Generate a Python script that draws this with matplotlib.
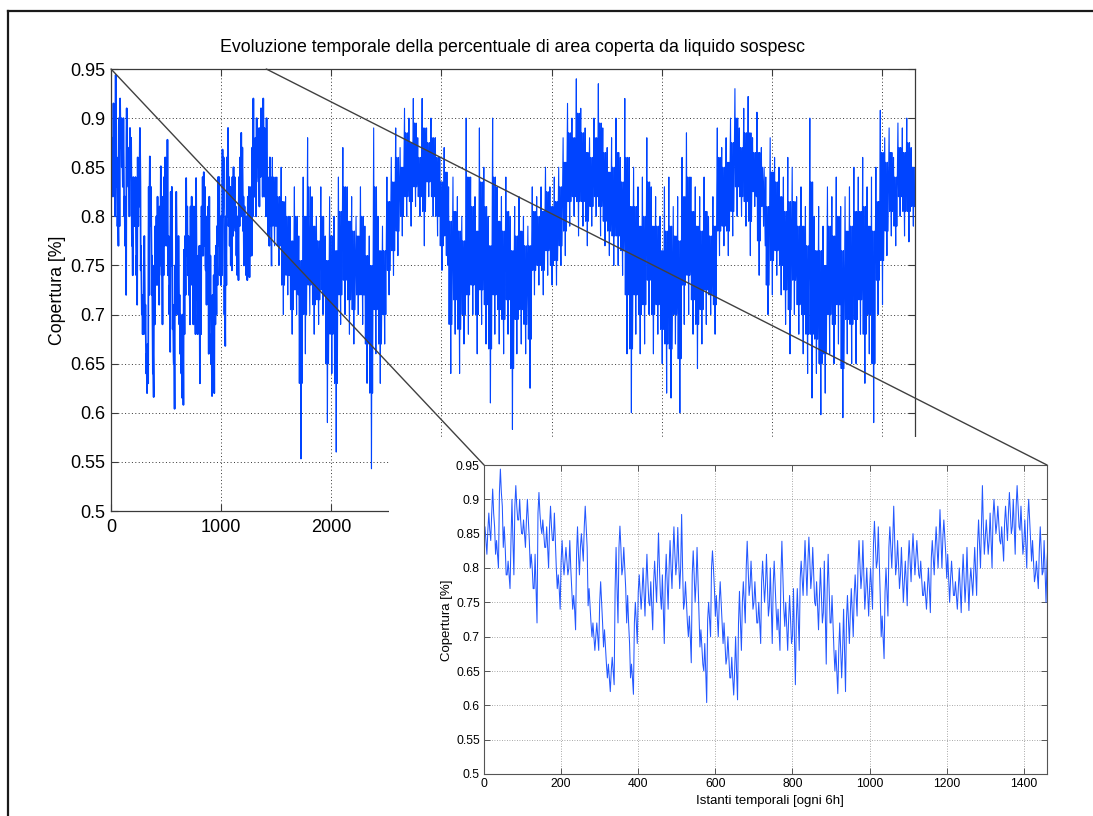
import numpy as np
import matplotlib
matplotlib.use("Agg")
import matplotlib.pyplot as plt
from matplotlib.patches import Rectangle, ConnectionPatch
from matplotlib.lines import Line2D

plt.rcParams["font.family"] = ["Liberation Sans", "DejaVu Sans"]

# ---- data -------------------------------------------------------------
# first year: per block of 10 steps, the upper / lower excursion and the core level
year1_hi = [0.86, 0.88, 0.915, 0.84, 0.944, 0.86, 0.81, 0.90, 0.92, 0.90,
            0.87, 0.90, 0.82, 0.82, 0.91, 0.87, 0.86, 0.89, 0.88, 0.79,
            0.84, 0.83, 0.84, 0.76, 0.86, 0.85, 0.89, 0.77, 0.72, 0.72,
            0.78, 0.71, 0.66, 0.67, 0.83, 0.861, 0.83, 0.76, 0.66, 0.75,
            0.79, 0.80, 0.82, 0.78, 0.81, 0.851, 0.79, 0.82, 0.84, 0.86,
            0.859, 0.878, 0.78, 0.73, 0.825, 0.83, 0.71, 0.69, 0.75, 0.825,
            0.76, 0.78, 0.72, 0.70, 0.67, 0.70, 0.766, 0.78, 0.839, 0.81,
            0.78, 0.75, 0.81, 0.82, 0.80, 0.81, 0.74, 0.839, 0.75, 0.76,
            0.77, 0.77, 0.81, 0.84, 0.845, 0.83, 0.78, 0.80, 0.81, 0.82,
            0.76, 0.68, 0.72, 0.74, 0.76, 0.77, 0.79, 0.84, 0.84, 0.80,
            0.80, 0.868, 0.86, 0.73, 0.80, 0.86, 0.89, 0.84, 0.83, 0.81,
            0.84, 0.85, 0.84, 0.81, 0.78, 0.80, 0.84, 0.86, 0.885, 0.87,
            0.82, 0.81, 0.78, 0.80, 0.82, 0.83, 0.80, 0.83, 0.87, 0.92,
            0.87, 0.88, 0.90, 0.89, 0.86, 0.89, 0.91, 0.90, 0.92, 0.89,
            0.87, 0.90, 0.84, 0.81, 0.86, 0.84]
year1_lo = [0.82, 0.84, 0.86, 0.80, 0.89, 0.79, 0.77, 0.79, 0.87, 0.85,
            0.83, 0.84, 0.77, 0.72, 0.86, 0.83, 0.80, 0.84, 0.80, 0.74,
            0.79, 0.79, 0.77, 0.71, 0.79, 0.81, 0.83, 0.72, 0.68, 0.68,
            0.72, 0.66, 0.62, 0.63, 0.72, 0.79, 0.77, 0.69, 0.616, 0.69,
            0.74, 0.73, 0.75, 0.71, 0.75, 0.76, 0.69, 0.74, 0.77, 0.79,
            0.77, 0.74, 0.72, 0.662, 0.75, 0.73, 0.66, 0.604, 0.70, 0.77,
            0.70, 0.72, 0.66, 0.64, 0.615, 0.608, 0.68, 0.72, 0.76, 0.74,
            0.72, 0.69, 0.75, 0.73, 0.69, 0.74, 0.68, 0.74, 0.68, 0.69,
            0.63, 0.68, 0.76, 0.76, 0.77, 0.75, 0.71, 0.72, 0.66, 0.72,
            0.68, 0.617, 0.64, 0.62, 0.69, 0.70, 0.73, 0.77, 0.74, 0.73,
            0.74, 0.80, 0.76, 0.668, 0.73, 0.80, 0.79, 0.77, 0.75, 0.745,
            0.78, 0.79, 0.79, 0.76, 0.74, 0.735, 0.79, 0.80, 0.80, 0.82,
            0.75, 0.76, 0.74, 0.735, 0.75, 0.738, 0.76, 0.76, 0.80, 0.82,
            0.82, 0.80, 0.85, 0.84, 0.81, 0.84, 0.85, 0.82, 0.86, 0.82,
            0.80, 0.84, 0.78, 0.77, 0.79, 0.75]
year1_mid = [0.84, 0.855, 0.88, 0.82, 0.91, 0.83, 0.79, 0.84, 0.89, 0.87,
             0.85, 0.87, 0.80, 0.77, 0.88, 0.85, 0.83, 0.86, 0.84, 0.77,
             0.81, 0.81, 0.80, 0.74, 0.82, 0.83, 0.86, 0.745, 0.70, 0.70,
             0.75, 0.685, 0.64, 0.65, 0.77, 0.83, 0.80, 0.72, 0.64, 0.72,
             0.765, 0.765, 0.78, 0.745, 0.78, 0.80, 0.74, 0.78, 0.80, 0.82,
             0.81, 0.80, 0.75, 0.70, 0.79, 0.78, 0.685, 0.65, 0.725, 0.80,
             0.73, 0.75, 0.69, 0.67, 0.64, 0.65, 0.72, 0.75, 0.80, 0.775,
             0.75, 0.72, 0.78, 0.775, 0.745, 0.775, 0.71, 0.79, 0.715, 0.725,
             0.70, 0.725, 0.785, 0.80, 0.81, 0.79, 0.745, 0.76, 0.735, 0.77,
             0.72, 0.65, 0.68, 0.68, 0.725, 0.735, 0.76, 0.805, 0.79, 0.765,
             0.77, 0.835, 0.81, 0.70, 0.765, 0.83, 0.84, 0.805, 0.79, 0.78,
             0.81, 0.82, 0.815, 0.785, 0.76, 0.77, 0.815, 0.83, 0.84, 0.845,
             0.785, 0.785, 0.76, 0.77, 0.785, 0.78, 0.78, 0.795, 0.835, 0.86,
             0.845, 0.84, 0.875, 0.865, 0.835, 0.865, 0.88, 0.86, 0.89, 0.855,
             0.835, 0.87, 0.81, 0.79, 0.825, 0.795]

# following years: per block of 40 steps, the extreme excursions (hi / lo),
# the edges of the dense core (core_hi / core_lo) and the core level (mid)
rest_hi = [0.86, 0.84, 0.85, 0.82, 0.80, 0.83, 0.78, 0.84, 0.88, 0.82,
           0.80, 0.83, 0.78, 0.82, 0.80, 0.84, 0.87, 0.83, 0.82, 0.80,
           0.83, 0.79, 0.78, 0.89, 0.80, 0.79, 0.84, 0.86, 0.89, 0.87,
           0.91, 0.90, 0.92, 0.88, 0.92, 0.89, 0.90, 0.88, 0.86, 0.87,
           0.83, 0.84, 0.82, 0.80, 0.90, 0.84, 0.82, 0.89, 0.85, 0.80,
           0.90, 0.83, 0.82, 0.84, 0.80, 0.81, 0.82, 0.80, 0.79, 0.83,
           0.82, 0.83, 0.85, 0.83, 0.84, 0.85, 0.88, 0.915, 0.90, 0.94,
           0.91, 0.89, 0.88, 0.90, 0.935, 0.89, 0.87, 0.88, 0.90, 0.86,
           0.92, 0.86, 0.85, 0.83, 0.84, 0.88, 0.83, 0.82, 0.80, 0.83,
           0.84, 0.81, 0.82, 0.86, 0.885, 0.84, 0.83, 0.82, 0.84, 0.80,
           0.82, 0.89, 0.87, 0.88, 0.90, 0.93, 0.89, 0.91, 0.922, 0.88,
           0.906, 0.87, 0.84, 0.88, 0.86, 0.85, 0.84, 0.86, 0.85, 0.82,
           0.83, 0.81, 0.90, 0.80, 0.81, 0.79, 0.83, 0.82, 0.84, 0.81,
           0.82, 0.83, 0.85, 0.84, 0.86, 0.83, 0.84, 0.85, 0.908, 0.88,
           0.89, 0.86, 0.895, 0.89, 0.90, 0.87]
rest_lo = [0.77, 0.75, 0.70, 0.72, 0.68, 0.70, 0.553, 0.66, 0.70, 0.68,
           0.69, 0.70, 0.59, 0.64, 0.56, 0.69, 0.70, 0.68, 0.67, 0.70,
           0.69, 0.63, 0.543, 0.66, 0.63, 0.67, 0.72, 0.74, 0.76, 0.78,
           0.80, 0.79, 0.81, 0.80, 0.77, 0.82, 0.80, 0.78, 0.745, 0.76,
           0.64, 0.68, 0.64, 0.67, 0.68, 0.70, 0.66, 0.69, 0.67, 0.61,
           0.68, 0.67, 0.66, 0.68, 0.583, 0.66, 0.67, 0.66, 0.625, 0.72,
           0.73, 0.72, 0.74, 0.73, 0.73, 0.75, 0.76, 0.79, 0.80, 0.78,
           0.79, 0.77, 0.79, 0.80, 0.78, 0.77, 0.76, 0.75, 0.75, 0.74,
           0.66, 0.60, 0.68, 0.66, 0.67, 0.70, 0.66, 0.68, 0.65, 0.62,
           0.615, 0.67, 0.60, 0.69, 0.70, 0.68, 0.645, 0.67, 0.69, 0.70,
           0.68, 0.76, 0.77, 0.76, 0.78, 0.80, 0.80, 0.79, 0.76, 0.81,
           0.74, 0.79, 0.70, 0.72, 0.74, 0.72, 0.69, 0.66, 0.70, 0.68,
           0.66, 0.64, 0.615, 0.64, 0.598, 0.62, 0.66, 0.65, 0.67, 0.595,
           0.66, 0.65, 0.65, 0.68, 0.63, 0.66, 0.59, 0.70, 0.71, 0.76,
           0.78, 0.77, 0.80, 0.78, 0.774, 0.79]
rest_mid = [0.81, 0.79, 0.77, 0.77, 0.74, 0.76, 0.72, 0.75, 0.77, 0.75,
            0.745, 0.76, 0.72, 0.73, 0.72, 0.76, 0.78, 0.755, 0.745, 0.75,
            0.76, 0.72, 0.71, 0.76, 0.72, 0.73, 0.78, 0.80, 0.82, 0.83,
            0.85, 0.845, 0.86, 0.84, 0.85, 0.855, 0.85, 0.83, 0.80, 0.81,
            0.75, 0.76, 0.74, 0.74, 0.77, 0.77, 0.745, 0.77, 0.76, 0.73,
            0.77, 0.75, 0.74, 0.76, 0.72, 0.74, 0.745, 0.73, 0.74, 0.775,
            0.775, 0.775, 0.795, 0.78, 0.785, 0.80, 0.82, 0.85, 0.85, 0.86,
            0.85, 0.83, 0.835, 0.85, 0.85, 0.83, 0.815, 0.815, 0.82, 0.80,
            0.79, 0.75, 0.765, 0.745, 0.755, 0.78, 0.745, 0.75, 0.725, 0.73,
            0.73, 0.74, 0.72, 0.775, 0.79, 0.76, 0.74, 0.745, 0.765, 0.75,
            0.75, 0.82, 0.82, 0.82, 0.84, 0.865, 0.845, 0.85, 0.84, 0.845,
            0.82, 0.83, 0.77, 0.80, 0.80, 0.785, 0.765, 0.76, 0.775, 0.75,
            0.745, 0.725, 0.76, 0.72, 0.71, 0.705, 0.745, 0.735, 0.755, 0.71,
            0.74, 0.74, 0.75, 0.76, 0.745, 0.745, 0.72, 0.775, 0.81, 0.82,
            0.835, 0.815, 0.845, 0.835, 0.84, 0.83]
rest_core_hi = [0.84, 0.82, 0.815, 0.80, 0.775, 0.80, 0.755, 0.80, 0.83, 0.79,
                0.775, 0.80, 0.755, 0.78, 0.765, 0.805, 0.83, 0.795, 0.785, 0.78,
                0.80, 0.76, 0.75, 0.83, 0.765, 0.765, 0.815, 0.835, 0.86, 0.85,
                0.885, 0.875, 0.895, 0.86, 0.89, 0.875, 0.88, 0.86, 0.835, 0.845,
                0.795, 0.805, 0.785, 0.775, 0.84, 0.81, 0.785, 0.835, 0.81, 0.77,
                0.84, 0.795, 0.785, 0.805, 0.765, 0.78, 0.785, 0.77, 0.77, 0.805,
                0.80, 0.805, 0.825, 0.81, 0.815, 0.83, 0.855, 0.885, 0.88, 0.905,
                0.885, 0.865, 0.86, 0.88, 0.895, 0.865, 0.845, 0.85, 0.865, 0.835,
                0.86, 0.81, 0.81, 0.79, 0.80, 0.835, 0.79, 0.79, 0.765, 0.785,
                0.79, 0.78, 0.775, 0.82, 0.84, 0.805, 0.79, 0.785, 0.805, 0.78,
                0.79, 0.86, 0.85, 0.855, 0.875, 0.90, 0.87, 0.885, 0.885, 0.865,
                0.865, 0.85, 0.81, 0.845, 0.835, 0.82, 0.805, 0.815, 0.815, 0.79,
                0.79, 0.77, 0.835, 0.765, 0.765, 0.75, 0.79, 0.78, 0.80, 0.765,
                0.785, 0.79, 0.805, 0.805, 0.81, 0.79, 0.785, 0.815, 0.865, 0.855,
                0.865, 0.84, 0.87, 0.865, 0.875, 0.85]
rest_core_lo = [0.79, 0.77, 0.73, 0.74, 0.705, 0.725, 0.63, 0.70, 0.73, 0.71,
                0.715, 0.725, 0.65, 0.68, 0.63, 0.72, 0.735, 0.715, 0.705, 0.72,
                0.72, 0.67, 0.62, 0.705, 0.67, 0.70, 0.745, 0.765, 0.785, 0.80,
                0.82, 0.815, 0.83, 0.82, 0.805, 0.835, 0.82, 0.80, 0.77, 0.78,
                0.69, 0.715, 0.685, 0.70, 0.72, 0.73, 0.70, 0.725, 0.71, 0.665,
                0.72, 0.705, 0.695, 0.715, 0.645, 0.695, 0.705, 0.69, 0.675, 0.745,
                0.75, 0.745, 0.765, 0.75, 0.755, 0.77, 0.785, 0.815, 0.82, 0.815,
                0.815, 0.795, 0.81, 0.82, 0.81, 0.795, 0.785, 0.78, 0.78, 0.765,
                0.72, 0.665, 0.72, 0.70, 0.71, 0.735, 0.70, 0.71, 0.685, 0.67,
                0.665, 0.70, 0.655, 0.73, 0.74, 0.715, 0.69, 0.705, 0.725, 0.72,
                0.71, 0.785, 0.79, 0.785, 0.805, 0.83, 0.82, 0.815, 0.795, 0.825,
                0.775, 0.81, 0.73, 0.755, 0.765, 0.75, 0.725, 0.705, 0.735, 0.71,
                0.70, 0.68, 0.68, 0.675, 0.65, 0.66, 0.70, 0.69, 0.71, 0.645,
                0.695, 0.69, 0.695, 0.715, 0.68, 0.70, 0.65, 0.735, 0.755, 0.785,
                0.805, 0.79, 0.82, 0.805, 0.805, 0.81]

y_ticks = [0.5, 0.55, 0.6, 0.65, 0.7, 0.75, 0.8, 0.85, 0.9, 0.95]
y_tick_labels = ["0.5", "0.55", "0.6", "0.65", "0.7", "0.75", "0.8", "0.85", "0.9", "0.95"]
main_x_ticks = [0, 1000, 2000, 3000, 4000, 5000, 6000, 7000]
main_x_labels = ["0", "1000", "2000", "", "", "", "", ""]
inset_x_ticks = [0, 200, 400, 600, 800, 1000, 1200, 1400]
n_samples = 7300
zoom_len = 1460

title_text = "Evoluzione temporale della percentuale di area coperta da liquido sospesc"
y_label = "Copertura [%]"
inset_x_label = "Istanti temporali [ogni 6h]"

# ---- series assembly ----------------------------------------------------
# first year: core -> peak -> core -> trough within each block of 10 steps
cover_y1 = np.column_stack([year1_mid, year1_hi, year1_mid, year1_lo]).ravel()
t_y1 = np.arange(0, zoom_len, 2.5)
# later years: the line swings through the core several times and reaches
# each extreme once within each block of 40 steps
cover_rest = np.column_stack([rest_mid, rest_hi, rest_core_lo, rest_core_hi,
                              rest_mid, rest_lo, rest_core_hi, rest_core_lo]).ravel()
t_rest = np.arange(zoom_len, n_samples, 5)
t = np.concatenate([t_y1, t_rest])
cover = np.concatenate([cover_y1, cover_rest])

# ---- figure -------------------------------------------------------------
W, H = 1093, 816
fig = plt.figure(figsize=(W / 100, H / 100), dpi=100)
fig.patch.set_facecolor("white")


def box(x0, y0, x1, y1):
    """pixel box (top-left origin) -> figure fraction rect"""
    return [x0 / W, 1 - y1 / H, (x1 - x0) / W, (y1 - y0) / H]


def fx(x):
    return x / W


def fy(y):
    return 1 - y / H


BLUE = "#0044ff"
SPINE = "#3a3a3a"

# main axes: the first year is drawn a little heavier so its density matches
ax = fig.add_axes(box(111, 69, 915, 511))
ax.plot(t_y1, cover_y1, color=BLUE, lw=1.25)
ax.plot(t[len(t_y1) - 1:], cover[len(t_y1) - 1:], color=BLUE, lw=0.8)
ax.set_xlim(0, n_samples)
ax.set_ylim(0.5, 0.95)
ax.set_xticks(main_x_ticks)
ax.set_xticklabels(main_x_labels)
ax.set_yticks(y_ticks)
ax.set_yticklabels(y_tick_labels)
ax.tick_params(direction="in", length=5, width=0.8, color=SPINE,
               top=True, right=True, labelsize=13, pad=4)
ax.tick_params(axis="x", pad=6)
ax.grid(True, linestyle=(0, (1, 2.5)), color="#333333", lw=0.7)
ax.set_axisbelow(True)
for s in ax.spines.values():
    s.set_color(SPINE)
    s.set_linewidth(0.9)

fig.text(fx(513), fy(47), title_text, ha="center", va="center", fontsize=12.8)
fig.text(fx(57), fy(290), y_label, ha="center", va="center", rotation=90,
         fontsize=12.8)

# white background of the inset panel, covering part of the main axes
fig.patches.append(Rectangle((fx(389), 0), 1 - fx(389), fy(437), transform=fig.transFigure,
                             facecolor="white", edgecolor="none", zorder=1))

# inset axes with the first year
axi = fig.add_axes(box(484, 465, 1047, 774))
axi.set_zorder(2)
axi.plot(t, cover, color="#2458ff", lw=0.75)
axi.set_xlim(0, zoom_len)
axi.set_ylim(0.5, 0.95)
axi.set_xticks(inset_x_ticks)
axi.set_yticks(y_ticks)
axi.set_yticklabels(y_tick_labels)
axi.tick_params(direction="in", length=4, width=0.7, color="#555555",
                top=True, right=True, labelsize=8.8, pad=3)
axi.grid(True, linestyle=(0, (1, 2)), color="#8c8c8c", lw=0.6)
axi.set_axisbelow(True)
for s in axi.spines.values():
    s.set_color("#555555")
    s.set_linewidth(0.8)
fig.text(fx(447), fy(620), y_label, ha="center", va="center", rotation=90,
         fontsize=9.5)
fig.text(fx(770), fy(801), inset_x_label, ha="center", va="center", fontsize=9.5)

# zoom connectors from the main axes to the inset corners
for xa, xb in [(0, 0), (1410, zoom_len)]:
    con = ConnectionPatch(xyA=(xa, 0.95), coordsA=ax.transData,
                          xyB=(xb, 0.95), coordsB=axi.transData,
                          color="#404040", lw=1.0, zorder=3)
    fig.add_artist(con)

# outer frame (left and top edges)
fig.add_artist(Line2D([fx(8), fx(8)], [fy(11), 0], transform=fig.transFigure,
                      color="#1a1a1a", lw=1.6, zorder=4))
fig.add_artist(Line2D([fx(8), 1], [fy(11), fy(11)], transform=fig.transFigure,
                      color="#1a1a1a", lw=1.6, zorder=4))

fig.savefig("out.png", dpi=100, facecolor="white")
